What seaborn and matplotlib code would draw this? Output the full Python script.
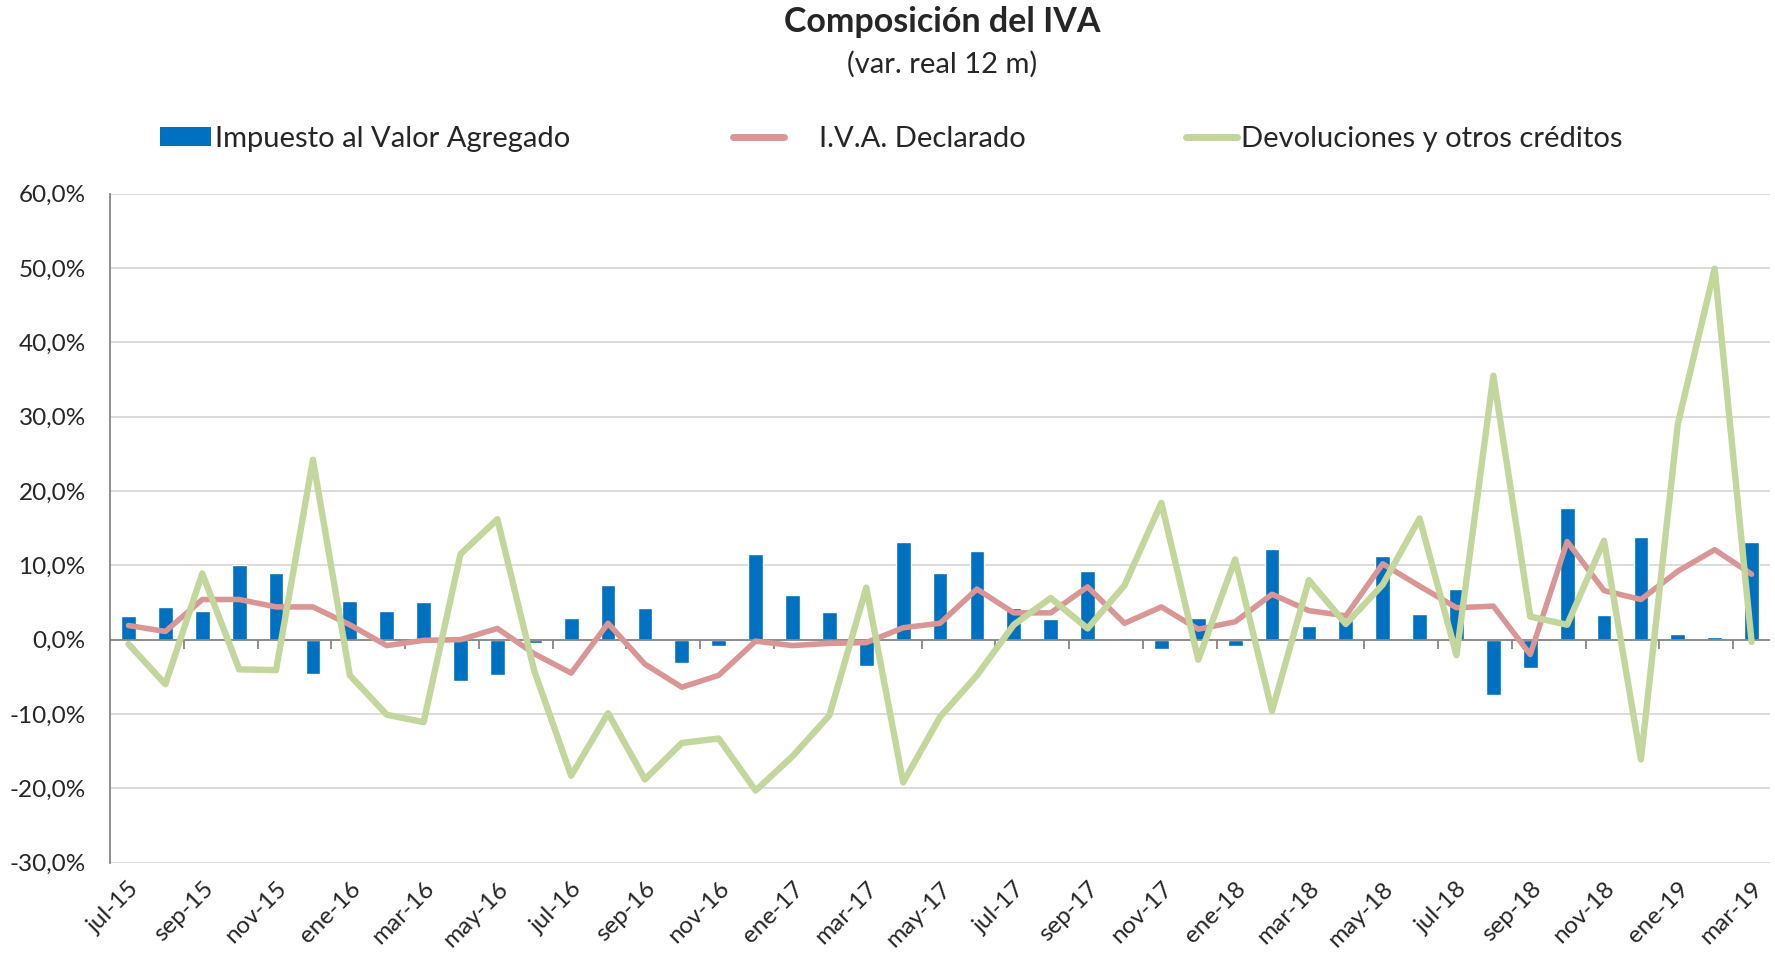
import numpy as np
import pandas as pd
import matplotlib
matplotlib.use("Agg")
import matplotlib.pyplot as plt
import seaborn as sns
from matplotlib.patches import Patch
from matplotlib.lines import Line2D

# -----------------------------
# Data (var. real 12 m, %)
# -----------------------------
meses = [
    'jul-15', 'ago-15', 'sep-15', 'oct-15', 'nov-15', 'dic-15',
    'ene-16', 'feb-16', 'mar-16', 'abr-16', 'may-16', 'jun-16',
    'jul-16', 'ago-16', 'sep-16', 'oct-16', 'nov-16', 'dic-16',
    'ene-17', 'feb-17', 'mar-17', 'abr-17', 'may-17', 'jun-17',
    'jul-17', 'ago-17', 'sep-17', 'oct-17', 'nov-17', 'dic-17',
    'ene-18', 'feb-18', 'mar-18', 'abr-18', 'may-18', 'jun-18',
    'jul-18', 'ago-18', 'sep-18', 'oct-18', 'nov-18', 'dic-18',
    'ene-19', 'feb-19', 'mar-19',
]

impuesto = [3.2, 4.4, 3.8, 10.0, 8.9, -4.6, 5.2, 3.9, 5.0, -5.5, -4.8, -0.5,
            2.9, 7.4, 4.2, -3.2, -0.8, 11.5, 6.0, 3.7, -3.5, 13.2, 8.9, 11.9,
            4.2, 2.8, 9.2, 0.2, -1.3, 2.9, -0.9, 12.2, 1.9, 2.6, 11.3, 3.4,
            6.8, -7.4, -3.8, 17.7, 3.3, 13.8, 0.8, 0.3, 13.2]

declarado = [1.9, 1.1, 5.4, 5.4, 4.4, 4.4, 2.0, -0.8, -0.1, 0.0, 1.5, -1.9,
             -4.5, 2.2, -3.3, -6.4, -4.8, -0.2, -0.8, -0.5, -0.4, 1.6, 2.2, 6.8,
             3.6, 3.6, 7.1, 2.2, 4.4, 1.4, 2.4, 6.1, 3.9, 3.2, 10.2, 7.2,
             4.3, 4.5, -2.0, 13.2, 6.6, 5.4, 9.2, 12.1, 8.8]

devoluciones = [-0.6, -6.0, 8.9, -4.0, -4.1, 24.2, -4.8, -10.1, -11.1, 11.5, 16.2, -4.2,
                -18.3, -9.9, -18.8, -13.9, -13.3, -20.3, -15.7, -10.2, 7.0, -19.2, -10.4, -4.8,
                2.0, 5.6, 1.5, 7.3, 18.4, -2.7, 10.8, -9.6, 8.0, 2.1, 7.4, 16.3,
                -2.1, 35.5, 3.1, 2.0, 13.3, -16.1, 29.0, 49.9, -0.3]

df = pd.DataFrame({
    'mes': meses,
    'impuesto': impuesto,
    'declarado': declarado,
    'devoluciones': devoluciones,
})
df['pos'] = np.arange(len(df))

AZUL = '#0070C0'
ROJO = '#D99694'
VERDE = '#C3D69B'
GRIS = '#868686'

sns.set_style('white')
plt.rcParams['font.family'] = ['Lato', 'DejaVu Sans']

fig = plt.figure(figsize=(17.75, 9.57), dpi=100)
ax = fig.add_axes([0.062, 0.0986, 0.9352, 0.6991])

# -----------------------------
# Bars + lines
# -----------------------------
sns.barplot(data=df, x='mes', y='impuesto', color=AZUL, saturation=1,
            width=0.4, ax=ax, zorder=2)
sns.lineplot(data=df, x='pos', y='declarado', color=ROJO, linewidth=4,
             ax=ax, zorder=3, solid_joinstyle='round')
sns.lineplot(data=df, x='pos', y='devoluciones', color=VERDE, linewidth=4.6,
             ax=ax, zorder=4, solid_joinstyle='round')

# -----------------------------
# Axes styling
# -----------------------------
ax.set_xlim(-0.5, len(meses) - 0.5)
ax.set_ylim(-30, 60)
yt = np.arange(-30, 61, 10)
ax.set_yticks(yt)
ax.set_yticklabels([f'{v:.1f}%'.replace('.', ',') for v in yt], fontsize=17.5)
ax.yaxis.grid(True, color='#D9D9D9', linewidth=1.3)
ax.set_axisbelow(True)

ax.set_xticks(df['pos'][::2])
ax.set_xticklabels(df['mes'][::2], rotation=45, ha='right',
                   rotation_mode='anchor', fontsize=17.5)
ax.tick_params(axis='x', length=0, pad=11)
ax.tick_params(axis='y', length=5.5, width=1.2, color=GRIS, direction='out', pad=12)

ax.set_xlabel('')
ax.set_ylabel('')
for s in ['top', 'right', 'bottom']:
    ax.spines[s].set_visible(False)
ax.spines['left'].set_color(GRIS)
ax.spines['left'].set_linewidth(1.3)

# horizontal category axis at 0 with ticks between categories
ax.axhline(0, color=GRIS, linewidth=1.3, zorder=2.5)
ax.vlines(np.arange(1.5, len(meses) - 1, 2), -1.2, 0, color=GRIS,
          linewidth=1.3, zorder=2.5)

# -----------------------------
# Titles
# -----------------------------
fig.text(0.531, 0.977, 'Composición del IVA', ha='center', va='center',
         fontsize=24.5, fontweight='bold')
fig.text(0.531, 0.933, '(var. real 12 m)', ha='center', va='center',
         fontsize=21)

# -----------------------------
# Legend (three pieces, Excel-like spacing)
# -----------------------------
leg_y = 0.855
entries = [
    (Patch(facecolor=AZUL, edgecolor='none'), 'Impuesto al Valor Agregado', 0.0901, 0.15),
    (Line2D([], [], color=ROJO, linewidth=5), 'I.V.A. Declarado', 0.413, 1.2),
    (Line2D([], [], color=VERDE, linewidth=5), 'Devoluciones y otros créditos', 0.668, 0.15),
]
for handle, label, x0, pad in entries:
    leg = fig.legend([handle], [label], loc='center left',
                     bbox_to_anchor=(x0, leg_y), frameon=False, fontsize=21,
                     handlelength=1.75, handleheight=0.6, handletextpad=pad,
                     borderpad=0, borderaxespad=0)

plt.savefig('out.png', dpi=100)
